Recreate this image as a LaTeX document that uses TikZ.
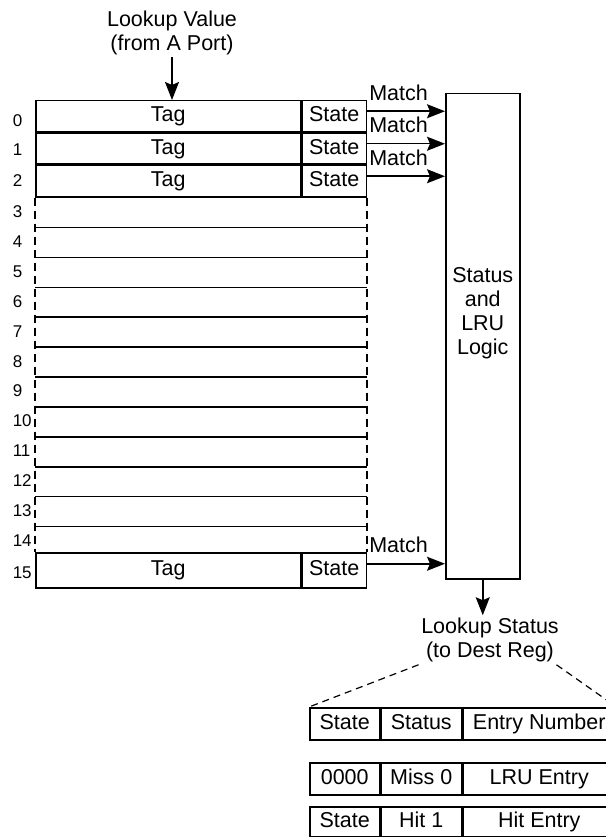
\documentclass[tikz,border=0pt]{standalone}
\usepackage{fontspec}
\setmainfont{Liberation Sans}
\usetikzlibrary{arrows.meta,positioning,calc}
\newcommand{\numfont}{\fontsize{17}{20}\selectfont}

\begin{document}
\begin{tikzpicture}[
  x=1pt,y=-1pt,
  font=\fontsize{21.5}{24}\selectfont,
  line width=1.5pt,
  cell/.style={draw,inner sep=0pt,text height=15pt,text depth=4pt,minimum height=31pt},
  tagcell/.style={cell,minimum width=265pt},
  stcell/.style={cell,minimum width=64pt},
  fmtcell/.style={cell,minimum height=32pt},
  arr/.style={-{Stealth[length=18pt,width=14pt,inset=3pt]}},
  match/.style={anchor=south west,inner sep=0pt,xshift=1.5pt,yshift=10pt},
  side/.style={line width=1.2pt,dash pattern=on 8pt off 5pt},
  fan/.style={line width=1.2pt,dash pattern=on 7pt off 5pt},
  num/.style={font=\numfont,anchor=west,inner sep=0pt}
]
\useasboundingbox (0,0) rectangle (605,837);

% incoming lookup value
\node[align=center,inner sep=1pt] (lookup) at (172,33) {Lookup Value\\(from A Port)};

% tag memory
\node[tagcell,anchor=north west] (tag0) at (35,100) {Tag};
\node[stcell,right=0pt of tag0] (st0) {State};
\node[tagcell,below=0pt of tag0] (tag1) {Tag};
\node[stcell,right=0pt of tag1] (st1) {State};
\node[tagcell,below=0pt of tag1] (tag2) {Tag};
\node[stcell,right=0pt of tag2] (st2) {State};
\node[tagcell,minimum height=35pt,anchor=north west] (tag15) at (35,552) {Tag};
\node[stcell,minimum height=35pt,right=0pt of tag15] (st15) {State};
\draw[arr] (lookup.south) -- (lookup.south |- tag0.north);

% empty rows 3..14
\foreach \k in {1,...,11}
  \draw ($(tag2.south west)+(0,29.92*\k)$) -- ($(st2.south east)+(0,29.92*\k)$);
\draw[side] (tag2.south west) -- (tag15.north west);
\draw[side] (st2.south east) -- (st15.north east);

% row numbers
\foreach \i/\y in {0/121,1/150,2/181,3/212,4/242,5/272,6/302,7/332,
                   8/362,9/391,10/421,11/451,12/481,13/511,14/541,15/573}
  \node[num] (n\i) at (12,\y) {\i};

% status and LRU logic
\node[draw,inner sep=0pt,minimum width=74pt,minimum height=485pt,anchor=north west] (logic) at (445,93) {};
\node[align=center,inner sep=0pt] (logiclab) at ([yshift=23pt]logic.center) {Status\\and\\LRU\\Logic};

% match lines
\foreach \r in {0,1,2}{
  \coordinate (m\r) at ([yshift=5pt]st\r.east);
  \draw[arr] (m\r) -- node[match,pos=0]{Match} (m\r -| logic.west);
}
\coordinate (m15) at ([yshift=6.5pt]st15.east);
\draw[arr] (m15) -- node[match,pos=0]{Match} (m15 -| logic.west);

% lookup status
\node[align=center,inner sep=2pt] (status) at (490,640) {Lookup Status\\(to Dest Reg)};
\draw[arr] (logic.south) -- (logic.south |- status.north);

% status register formats
\node[fmtcell,minimum width=70pt,anchor=north west] (fmt1) at (309,707) {State};
\node[fmtcell,minimum width=80pt,right=0pt of fmt1] (fmt2) {Status};
\node[fmtcell,minimum width=153pt,right=0pt of fmt2] (fmt3) {Entry Number};
\node[fmtcell,minimum width=70pt,anchor=north west] (miss1) at (309,762) {0000};
\node[fmtcell,minimum width=80pt,right=0pt of miss1] (miss2) {Miss 0};
\node[fmtcell,minimum width=153pt,right=0pt of miss2] (miss3) {LRU Entry};
\node[fmtcell,minimum height=30pt,minimum width=70pt,anchor=north west] (hit1) at (309,806) {State};
\node[fmtcell,minimum height=30pt,minimum width=80pt,right=0pt of hit1] (hit2) {Hit 1};
\node[fmtcell,minimum height=30pt,minimum width=153pt,right=0pt of hit2] (hit3) {Hit Entry};
\draw[fan] (status.south west) -- (fmt1.north west);
\draw[fan] ([xshift=-5pt]status.south east) -- (fmt3.north east);
\end{tikzpicture}
\end{document}
